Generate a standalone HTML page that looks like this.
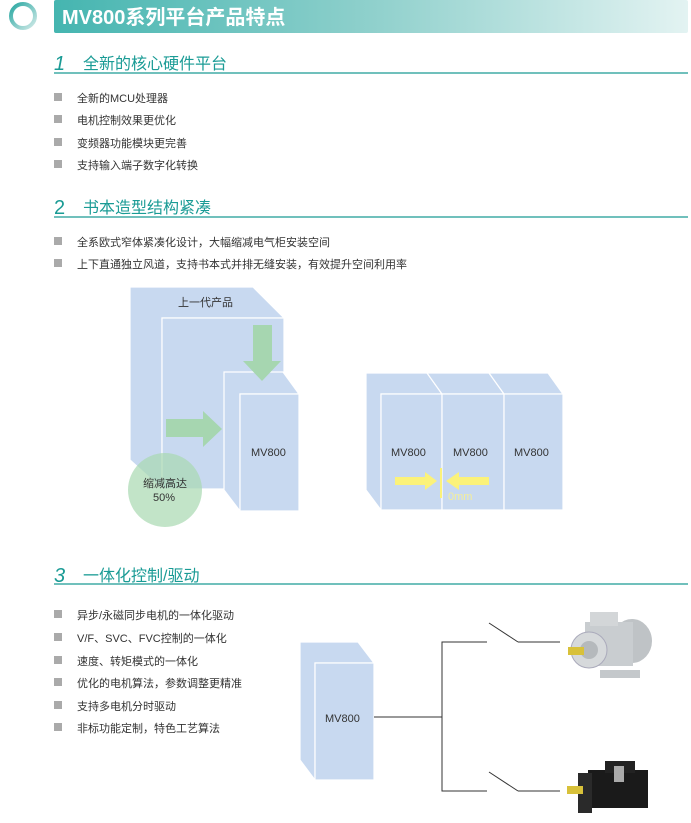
<!DOCTYPE html>
<html><head><meta charset="utf-8"><style>
html,body{margin:0;padding:0;background:#fff;}
svg{display:block;}
text{font-family:"Liberation Sans","Noto Sans CJK SC",sans-serif;}
</style></head><body>
<svg width="691" height="823" viewBox="0 0 691 823" xmlns="http://www.w3.org/2000/svg">
<defs>
<linearGradient id="bg" x1="0" x2="1" y1="0" y2="0">
<stop offset="0" stop-color="#45b5b0"/><stop offset="0.5" stop-color="#8fd0cc"/><stop offset="1" stop-color="#e3f3f2"/>
</linearGradient>
<linearGradient id="rg" x1="0" x2="1" y1="0" y2="1">
<stop offset="0" stop-color="#2aa8a2"/><stop offset="1" stop-color="#cfe9e7"/>
</linearGradient>
</defs>
<circle cx="23" cy="16" r="12" fill="none" stroke="url(#rg)" stroke-width="4"/>
<rect x="54" y="0" width="634" height="33" rx="2" fill="url(#bg)"/>
<text x="62" y="24" font-size="20" font-weight="bold" fill="#fff">MV800系列平台产品特点</text>

<g fill="#1a9b95">
<text x="54" y="70" font-size="20" font-style="italic">1</text>
<text x="83" y="69" font-size="16">全新的核心硬件平台</text>
<text x="54" y="214" font-size="20">2</text>
<text x="83" y="213" font-size="16">书本造型结构紧凑</text>
<text x="54" y="582" font-size="20" font-style="italic">3</text>
<text x="83" y="581" font-size="16">一体化控制/驱动</text>
</g>
<g stroke="#1a9b95" stroke-width="1.3">
<line x1="54" y1="73" x2="688" y2="73"/>
<line x1="54" y1="217" x2="688" y2="217"/>
<line x1="54" y1="584" x2="688" y2="584"/>
</g>

<g fill="#aaa">
<rect x="54" y="93" width="8" height="8"/><rect x="54" y="115" width="8" height="8"/>
<rect x="54" y="138" width="8" height="8"/><rect x="54" y="160" width="8" height="8"/>
<rect x="54" y="237" width="8" height="8"/><rect x="54" y="259" width="8" height="8"/>
<rect x="54" y="610" width="8" height="8"/><rect x="54" y="633" width="8" height="8"/>
<rect x="54" y="656" width="8" height="8"/><rect x="54" y="678" width="8" height="8"/>
<rect x="54" y="701" width="8" height="8"/><rect x="54" y="723" width="8" height="8"/>
</g>
<g font-size="11" fill="#333">
<text x="77" y="102">全新的MCU处理器</text>
<text x="77" y="124">电机控制效果更优化</text>
<text x="77" y="147">变频器功能模块更完善</text>
<text x="77" y="169">支持输入端子数字化转换</text>
<text x="77" y="246">全系欧式窄体紧凑化设计，大幅缩减电气柜安装空间</text>
<text x="77" y="268">上下直通独立风道，支持书本式并排无缝安装，有效提升空间利用率</text>
<text x="77" y="619">异步/永磁同步电机的一体化驱动</text>
<text x="77" y="642">V/F、SVC、FVC控制的一体化</text>
<text x="77" y="665">速度、转矩模式的一体化</text>
<text x="77" y="687">优化的电机算法，参数调整更精准</text>
<text x="77" y="710">支持多电机分时驱动</text>
<text x="77" y="732">非标功能定制，特色工艺算法</text>
</g>

<g fill="#c8d9f0" stroke="#fff" stroke-width="1.2">
<polygon points="130,287 253,287 284,318 162,318 162,489 130,460"/>
<rect x="162" y="318" width="122" height="171"/>
</g>
<text x="178" y="306" font-size="11" fill="#333">上一代产品</text>
<g fill="#c8d9f0" stroke="#fff" stroke-width="1.2">
<polygon points="224,372 283,372 299,394 240,394 240,511 224,490"/>
<rect x="240" y="394" width="59" height="117"/>
</g>
<text x="251" y="456" font-size="11" fill="#333">MV800</text>
<g fill="#a6d6b0">
<polygon points="253,325 272,325 272,361 281,361 262,381 243,361 253,361"/>
<polygon points="166,419 203,419 203,411 222,429 203,447 203,437 166,437"/>
</g>
<circle cx="165" cy="490" r="37" fill="#a8d8b0" opacity="0.7"/>
<text x="143" y="487" font-size="11" fill="#333">缩减高达</text>
<text x="153" y="501" font-size="11" fill="#333">50%</text>

<g fill="#c8d9f0" stroke="#fff" stroke-width="1.2">
<polygon points="366,373 427,373 442,394 381,394 381,510 366,490"/>
<polygon points="427,373 489,373 504,394 442,394"/>
<polygon points="489,373 548,373 563,394 504,394"/>
<rect x="381" y="394" width="61" height="116"/>
<rect x="442" y="394" width="62" height="116"/>
<rect x="504" y="394" width="59" height="116"/>
</g>
<g font-size="11" fill="#333">
<text x="391" y="456">MV800</text><text x="453" y="456">MV800</text><text x="514" y="456">MV800</text>
</g>
<g fill="#fbf27a">
<polygon points="395,477 425,477 425,472 437,481 425,490 425,485 395,485"/>
<polygon points="489,477 459,477 459,472 446,481 459,490 459,485 489,485"/>
<rect x="440" y="468" width="2" height="30"/>
</g>
<text x="448" y="500" font-size="11" fill="#f4ee9a">0mm</text>

<g fill="#c8d9f0" stroke="#fff" stroke-width="1.2">
<polygon points="300,642 358,642 374,663 315,663 315,780 300,760"/>
<rect x="315" y="663" width="59" height="117"/>
</g>
<text x="325" y="722" font-size="11" fill="#333">MV800</text>
<g stroke="#333" stroke-width="1" fill="none">
<polyline points="374,717 442,717"/>
<polyline points="487,642 442,642 442,791 487,791"/>
<line x1="489" y1="623" x2="518" y2="642"/><line x1="518" y1="642" x2="560" y2="642"/>
<line x1="489" y1="772" x2="518" y2="791"/><line x1="518" y1="791" x2="560" y2="791"/>
</g>
<g>
<ellipse cx="632" cy="641" rx="20" ry="22" fill="#bfc3c6"/>
<rect x="585" y="622" width="48" height="44" fill="#c9cdd0"/>
<rect x="590" y="612" width="28" height="14" fill="#d3d6d8"/>
<circle cx="589" cy="650" r="18" fill="#d6d9db" stroke="#aab" stroke-width="1"/>
<circle cx="589" cy="650" r="9" fill="#b5b9bc"/>
<rect x="568" y="647" width="16" height="8" fill="#d8c13a"/>
<rect x="600" y="670" width="40" height="8" fill="#c4c8cb"/>
</g>
<g>
<rect x="588" y="770" width="60" height="38" fill="#1a1a1a"/>
<rect x="605" y="761" width="30" height="12" fill="#222"/>
<rect x="614" y="766" width="10" height="16" fill="#aaa"/>
<rect x="578" y="773" width="14" height="40" fill="#2a2a2a"/>
<rect x="567" y="786" width="16" height="8" fill="#d8c13a"/>
</g>
</svg>
</body></html>
